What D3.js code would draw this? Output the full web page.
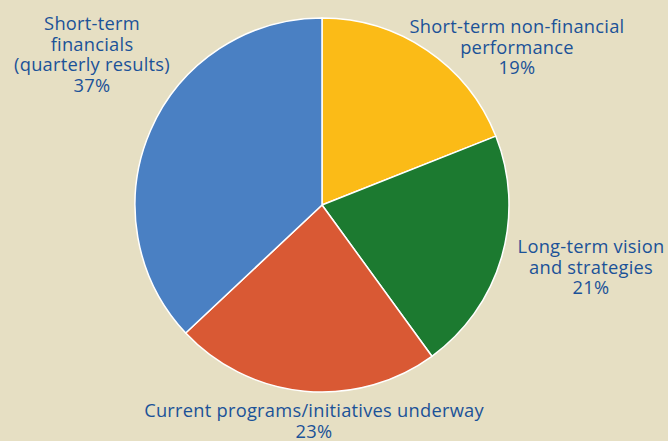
<!DOCTYPE html>
<html>
<head>
<meta charset="utf-8">
<script src="https://cdn.jsdelivr.net/npm/d3@7"></script>
<style>
  html, body { margin: 0; padding: 0; background: #e6dfc3; }
  svg { display: block; }
  .label { font-family: "Open Sans", sans-serif; font-size: 18.3px; letter-spacing: 0.25px; fill: #1b5298; }
</style>
</head>
<body>
<div class="chart"></div>
<script>
var width = 668, height = 441;

// data
var categories = [
    "Short-term non-financial performance",
    "Long-term vision and strategies",
    "Current programs/initiatives underway",
    "Short-term financials (quarterly results)"
];
var values = [19, 21, 23, 37];
var colors = ["#fbbb17", "#1c7a30", "#d95934", "#4a80c3"];

// label text broken into lines, as in the original
var labelLines = [
    ["Short-term non-financial", "performance"],
    ["Long-term vision", "and strategies"],
    ["Current programs/initiatives underway"],
    ["Short-term", "financials", "(quarterly results)"]
];

// where each label block sits (center x, first baseline), relative to pie center
var labelPos = [[195, -172], [269, 48], [-8, 212], [-230, -175]];

var cx = 322, cy = 205, r = 187;

var svg = d3.select(".chart")
    .append("svg")
    .attr("width", width)
    .attr("height", height);

var g = svg.append("g")
    .attr("transform", "translate(" + cx + "," + cy + ")");

var pie = d3.pie().sort(null).value(function (d) { return d; });
var arc = d3.arc().innerRadius(0).outerRadius(r);

var arcs = pie(values);

g.selectAll("path.slice")
    .data(arcs)
    .enter().append("path")
    .attr("class", "slice")
    .attr("d", arc)
    .attr("fill", function (d, i) { return colors[i]; })
    .attr("stroke", "#ffffff")
    .attr("stroke-width", 1.5)
    .attr("stroke-linejoin", "round");

// labels
var lineH = 20.5;
var labels = g.selectAll("text.label")
    .data(arcs)
    .enter().append("text")
    .attr("class", "label")
    .attr("text-anchor", "middle");

labels.each(function (d, i) {
    var t = d3.select(this);
    var lines = labelLines[i].concat([values[i] + "%"]);
    lines.forEach(function (s, k) {
        t.append("tspan")
            .attr("x", labelPos[i][0])
            .attr("y", labelPos[i][1] + k * lineH)
            .text(s);
    });
});
</script>
</body>
</html>
